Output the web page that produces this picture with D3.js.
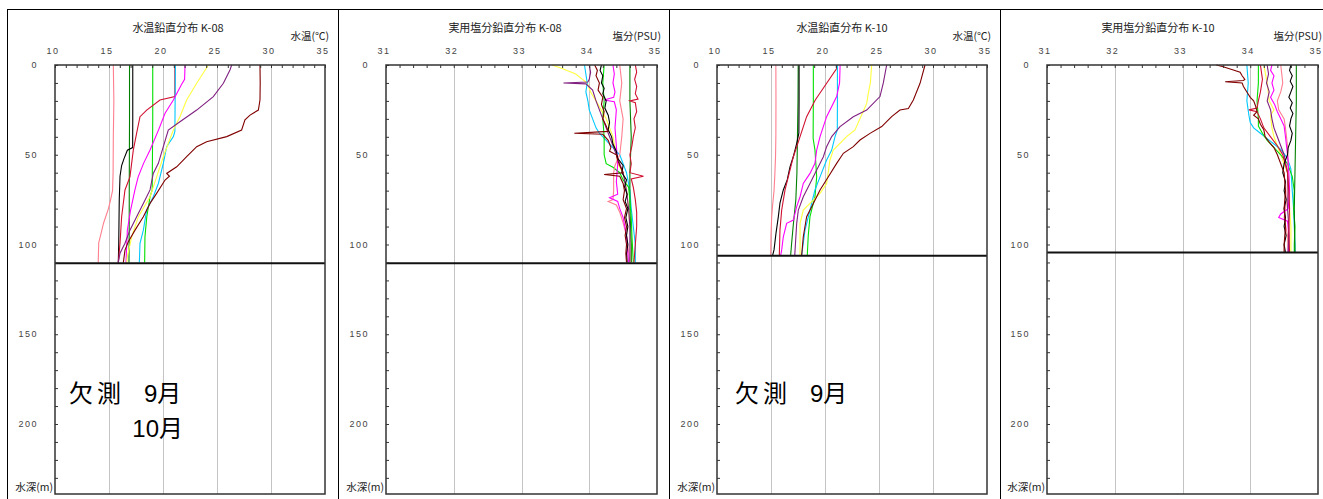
<!DOCTYPE html>
<html lang="ja">
<head>
<meta charset="UTF-8" />
<title>水温・実用塩分 鉛直分布 K-08 / K-10</title>
<style>
  body { margin: 0; background: #fff; }
  svg { display: block; }
  .tick-label { font-family: "Liberation Sans", sans-serif; font-size: 9px; fill: #444; letter-spacing: 1.5px; }
  .title { font-family: "Noto Sans CJK JP", sans-serif; font-size: 11px; fill: #222; }
  .unit { font-family: "Noto Sans CJK JP", sans-serif; font-size: 10.5px; fill: #222; }
  .note { font-family: "Liberation Sans", "Noto Sans CJK JP", sans-serif; font-size: 24px; fill: #000; }
</style>
<script src="https://d3js.org/d3.v7.min.js"></script>
</head>
<body>
<div id="chart"></div>
<script>
// axis values
const tempTicks = [10, 15, 20, 25, 30, 35];
const salTicks = [31, 32, 33, 34, 35];
const depthTicks = [0, 50, 100, 150, 200];
const depthMax = 239;

// K-08 water temperature profiles, [depth m, temp °C]
const t08Pink = [[0,15.4],[20,15.45],[40,15.4],[60,15.38],[70,15.33],[75,15.15],[80,14.95],[88,14.5],[93,14.3],[99,14.05],[110,14.0]];
const t08DarkGreen = [[0,16.9],[30,16.9],[60,16.88],[90,16.87],[110,16.85]];
const t08Black = [[0,17.2],[30,17.2],[46,17.19],[47.5,16.7],[52,16.4],[56,16.17],[62,16.02],[75,15.95],[100,15.9],[110,15.86]];
const t08Green = [[0,19.05],[30,19.05],[69.6,19.0],[73.4,18.8],[84.5,18.5],[95.7,18.33],[110,18.3]];
const t08Red = [[0,21.1],[17.6,21.1],[19.5,19.72],[25.1,18.49],[28.8,17.87],[38,17.56],[47.4,17.25],[62.3,16.94],[69.6,16.48],[84.5,16.17],[99.3,16.02],[110,15.86]];
const t08Cyan = [[0,21.15],[37,21.1],[39.9,20.96],[45.5,20.34],[54.8,20.03],[66,19.57],[73.4,19.1],[80.8,18.49],[92,18.18],[99.3,17.87],[110,17.81]];
const t08Magenta = [[0,22.04],[8,22.0],[11,21.7],[19.5,20.96],[26.9,20.19],[36,19.6],[47.4,18.8],[54.8,18.2],[62.3,17.7],[69.6,17.4],[80.8,17.0],[92,16.7],[110,16.57]];
const t08Yellow = [[0,24.2],[10.2,23.12],[19.5,22.19],[28.8,21.57],[36.2,20.96],[43.6,20.49],[51.1,20.03],[62.3,19.41],[73.4,18.8],[84.5,17.72],[95.7,17.1],[106.8,16.7],[110,16.65]];
const t08Purple = [[0,26.36],[2.8,26.2],[10.2,25.59],[17.6,24.66],[25.1,23.12],[31.6,21.57],[36.2,20.49],[45.5,20.03],[54.8,19.57],[60.4,19.1],[69.6,18.8],[77.1,18.18],[84.5,17.56],[92,16.94],[99.3,16.48],[104.9,16.02],[110,15.86]];
const t08Maroon = [[0,28.98],[10,29.0],[19.5,28.98],[25.1,28.83],[27.9,28.06],[30.6,27.59],[36.2,27.28],[39.9,25.9],[42.7,24.04],[45.5,23.12],[51.1,22.19],[56.7,21.27],[60.4,20.34],[62,20.6],[64.1,20.19],[71.5,19.41],[77.1,18.8],[84.5,18.18],[92,17.41],[98.4,16.79],[103.1,16.48],[110,16.33]];

// K-08 practical salinity profiles, [depth m, PSU]
const s08Yellow = [[0,33.45],[2,33.6],[5,33.8],[8,33.9],[10,33.97],[15,34.02],[20,34.1],[30,34.25],[40,34.35],[50,34.4],[55,34.42],[60,34.5],[70,34.55],[80,34.58],[90,34.6],[100,34.62],[110,34.62]];
const s08Cyan = [[0,33.93],[5,33.95],[10,33.97],[15,33.95],[20,33.98],[25,34.0],[30,34.05],[35,34.1],[38,34.15],[42,34.25],[46,34.35],[50,34.45],[55,34.5],[60,34.55],[70,34.6],[80,34.62],[90,34.65],[100,34.68],[110,34.68]];
const s08Maroon = [[0,34.08],[3,34.12],[6,34.1],[10,34.15],[14,34.13],[18,34.2],[22,34.18],[26,34.22],[30,34.2],[34,34.25],[37,34.28],[38,33.78],[38.6,34.2],[42,34.28],[46,34.32],[48,34.3],[50,34.4],[53,34.42],[56,34.45],[60,34.5],[61,34.22],[62,34.45],[66,34.5],[70,34.52],[75,34.5],[80,34.55],[85,34.52],[90,34.55],[95,34.53],[100,34.55],[105,34.54],[110,34.55]];
const s08Purple = [[0,34.0],[4,34.02],[8,34.0],[9.5,33.98],[10,33.62],[10.5,33.95],[14,34.05],[20,34.1],[25,34.15],[30,34.2],[35,34.25],[40,34.3],[45,34.35],[50,34.4],[55,34.45],[60,34.5],[70,34.55],[80,34.58],[90,34.6],[100,34.6],[110,34.6]];
const s08Black = [[0,34.18],[3,34.16],[6,34.2],[10,34.18],[13,34.22],[16,34.2],[20,34.25],[24,34.23],[28,34.28],[32,34.3],[36,34.28],[40,34.33],[44,34.35],[48,34.4],[52,34.42],[56,34.5],[60,34.48],[64,34.55],[68,34.52],[72,34.56],[76,34.53],[80,34.57],[85,34.54],[90,34.57],[95,34.55],[100,34.57],[105,34.55],[110,34.56]];
const s08Green = [[0,34.22],[10,34.2],[20,34.22],[30,34.2],[40,34.22],[50,34.22],[55,34.25],[57,34.35],[60,34.45],[64,34.5],[68,34.58],[75,34.6],[85,34.62],[95,34.63],[110,34.65]];
const s08Magenta = [[0,34.35],[5,34.37],[10,34.35],[15,34.38],[18,34.36],[19.5,34.22],[20.5,34.37],[25,34.4],[35,34.38],[45,34.4],[55,34.42],[65,34.4],[72,34.42],[74,34.3],[76,34.42],[80,34.45],[85,34.5],[95,34.55],[110,34.58]];
const s08Pink = [[0,34.45],[10,34.48],[20,34.45],[30,34.5],[40,34.48],[50,34.45],[56,34.38],[60,34.36],[70,34.36],[75,34.35],[76,34.28],[78,34.4],[82,34.45],[88,34.5],[95,34.55],[110,34.6]];
const s08Red = [[0,34.68],[4,34.7],[8,34.67],[12,34.7],[16,34.68],[19,34.72],[20,34.6],[21,34.68],[26,34.7],[30,34.66],[35,34.68],[40,34.65],[45,34.63],[50,34.6],[55,34.62],[60,34.6],[62,34.8],[63.5,34.62],[68,34.65],[75,34.68],[82,34.7],[90,34.7],[100,34.68],[110,34.66]];
const s08DarkGreen = [[0,34.6],[20,34.6],[40,34.62],[60,34.6],[80,34.6],[100,34.62],[110,34.62]];

// K-10 water temperature profiles, [depth m, temp °C]
const t10Pink = [[0,15.45],[20,15.46],[40,15.45],[51,15.42],[62,15.35],[70,15.28],[78,15.15],[85,15.06],[95,15.0],[106,14.97]];
const t10Black = [[0,17.6],[20,17.6],[38,17.58],[43.6,17.38],[51,17.07],[56.7,16.76],[64,16.5],[69.6,16.14],[77,15.83],[84.5,15.68],[93.8,15.46],[103,15.28],[106,15.15]];
const t10DarkGreen = [[0,17.52],[20,17.5],[40,17.45],[60,17.4],[75,17.3],[90,17.05],[100,16.9],[106,16.82]];
const t10Red = [[0,21.1],[2,21.08],[10.2,20.15],[19.5,19.1],[28.8,18.3],[39.9,17.69],[51.1,17.07],[62.3,16.6],[69.6,16.3],[80.8,15.99],[92,15.83],[106,15.77]];
const t10Magenta = [[0,21.4],[10,21.35],[17.6,21.08],[28.8,20.15],[39.9,19.54],[47.4,19.23],[54.8,19.07],[60.4,18.61],[66,17.99],[73.4,17.69],[78.9,17.38],[86.4,17.07],[88.2,16.45],[95.7,16.14],[103,15.99],[106,15.9]];
const t10Cyan = [[0,21.15],[20,21.15],[36.2,21.14],[39.9,20.93],[47.4,20.62],[52.9,20.15],[62.3,19.54],[69.6,19.07],[80.8,18.61],[92,18.15],[106,17.84]];
const t10Yellow = [[0,24.32],[10,24.2],[15.8,24.01],[21.4,23.86],[36.2,22.78],[39.9,22.0],[47.4,20.77],[52.9,20.46],[66,20.15],[71.5,19.54],[77.1,18.61],[80.8,17.99],[88.2,17.69],[106,17.69]];
const t10Purple = [[0,25.71],[10,25.4],[17.6,25.09],[25.1,23.86],[28.8,22.62],[34.3,21.39],[39.9,20.62],[45.5,20.15],[51.1,19.85],[58.5,19.23],[66,18.61],[73.4,17.99],[80.8,17.53],[88.2,17.38],[106,17.2]];
const t10Maroon = [[0,29.26],[10.2,28.8],[19.5,28.18],[24.2,27.72],[25.1,26.94],[28.8,26.17],[34.3,25.25],[38.1,24.17],[41.8,23.24],[45.5,22.62],[49.2,21.7],[54.8,21.08],[62.3,20.31],[69.6,19.54],[77.1,18.92],[84.5,18.3],[95.7,17.99],[106,17.84]];
const t10Green = [[0,18.92],[20,18.92],[40.8,18.9],[47.4,19.07],[62.3,19.23],[73.4,19.07],[84.5,18.61],[95,18.45],[106,18.36]];

// K-10 practical salinity profiles, [depth m, PSU]
const s10Maroon = [[0,33.5],[1,33.6],[2.8,33.75],[4,33.85],[6,33.88],[8,33.92],[8.6,33.9],[9.3,33.63],[10,33.88],[12,33.9],[15,33.95],[18,34.0],[20,34.05],[23,34.08],[26,34.1],[28,34.05],[30,34.12],[33,34.15],[36,34.2],[40,34.22],[43,34.28],[46,34.35],[50,34.4],[55,34.45],[60,34.5],[70,34.52],[80,34.5],[90,34.52],[100,34.5],[104.5,34.5]];
const s10Cyan = [[0,33.95],[10,33.97],[20,33.95],[28,33.98],[32,34.0],[35,34.05],[38,34.15],[41,34.25],[44,34.35],[47,34.45],[52,34.55],[58,34.6],[70,34.62],[80,34.64],[90,34.65],[100,34.66],[104.5,34.66]];
const s10Green = [[0,34.12],[10,34.12],[20,34.1],[30,34.12],[34,34.12],[38,34.18],[42,34.25],[46,34.35],[50,34.45],[55,34.55],[62,34.62],[70,34.65],[80,34.64],[90,34.66],[100,34.65],[104.5,34.65]];
const s10Magenta = [[0,34.32],[3,34.3],[6,34.35],[10,34.32],[14,34.35],[18,34.3],[22,34.36],[26,34.4],[30,34.45],[34,34.5],[40,34.52],[50,34.55],[60,34.57],[70,34.58],[80,34.56],[83,34.45],[85,34.42],[87,34.55],[95,34.57],[104.5,34.56]];
const s10Black = [[0,34.6],[3,34.58],[6,34.62],[9,34.59],[12,34.63],[15,34.6],[18,34.57],[21,34.62],[24,34.59],[27,34.63],[30,34.6],[34,34.58],[38,34.62],[42,34.6],[46,34.56],[50,34.55],[55,34.5],[60,34.48],[65,34.52],[70,34.5],[75,34.53],[80,34.5],[85,34.52],[90,34.5],[95,34.53],[100,34.5],[104.5,34.52]];
const s10DarkGreen = [[0,34.68],[20,34.68],[40,34.67],[60,34.66],[80,34.65],[104.5,34.66]];
const s10Yellow = [[0,34.2],[10,34.25],[20,34.28],[25,34.35],[28,34.3],[35,34.32],[40,34.35],[45,34.4],[50,34.45],[55,34.5],[60,34.55],[70,34.58],[80,34.58],[90,34.6],[104.5,34.6]];
const s10Pink = [[0,34.45],[10,34.48],[15,34.45],[20,34.4],[25,34.42],[30,34.5],[35,34.52],[45,34.55],[55,34.56],[65,34.55],[75,34.54],[85,34.5],[95,34.55],[104.5,34.56]];
const s10Purple = [[0,34.25],[5,34.27],[10,34.24],[15,34.28],[20,34.25],[25,34.3],[30,34.32],[35,34.35],[40,34.4],[45,34.45],[50,34.5],[60,34.55],[70,34.56],[80,34.55],[90,34.57],[104.5,34.56]];
const s10Red = [[0,34.15],[8,34.18],[15,34.15],[20,34.12],[24,34.1],[25,33.98],[26,34.1],[30,34.15],[35,34.2],[40,34.3],[45,34.4],[50,34.48],[60,34.55],[70,34.57],[80,34.58],[90,34.57],[104.5,34.58]];

// line colours
const col = {
  pink: "#ff7f8f", darkGreen: "#008000", black: "#000000", green: "#00e000",
  red: "#d01030", cyan: "#00c8ff", magenta: "#ff00ff", yellow: "#ffff40",
  purple: "#802080", maroon: "#800000"
};

const width = 1323, height = 499;
const plotTop = 65, plotBottom = 494;

const panels = [
  { frameLeft: 7, left: 55, right: 325, domain: [10, 35], ticks: tempTicks, minorStep: 1,
    title: "水温鉛直分布 K-08", titleX: 178, unit: "水温(℃)", bottomDepth: 110.5,
    series: [[t08Pink, col.pink], [t08DarkGreen, col.darkGreen], [t08Black, col.black], [t08Green, col.green],
             [t08Red, col.red], [t08Cyan, col.cyan], [t08Magenta, col.magenta], [t08Yellow, col.yellow],
             [t08Purple, col.purple], [t08Maroon, col.maroon]],
    notes: [["欠測", 69, 402, "start"], ["9月", 144, 402, "start"], ["10月", 183, 437, "end"]] },
  { frameLeft: 338, left: 386, right: 657, domain: [31, 35], ticks: salTicks, minorStep: 0.2,
    title: "実用塩分鉛直分布 K-08", titleX: 505, unit: "塩分(PSU)", bottomDepth: 110.5,
    series: [[s08Yellow, col.yellow], [s08Cyan, col.cyan], [s08DarkGreen, col.darkGreen], [s08Green, col.green],
             [s08Pink, col.pink], [s08Magenta, col.magenta], [s08Purple, col.purple], [s08Black, col.black],
             [s08Red, col.red], [s08Maroon, col.maroon]],
    notes: [] },
  { frameLeft: 669, left: 717, right: 987, domain: [10, 35], ticks: tempTicks, minorStep: 1,
    title: "水温鉛直分布 K-10", titleX: 842, unit: "水温(℃)", bottomDepth: 106.2,
    series: [[t10Pink, col.pink], [t10DarkGreen, col.darkGreen], [t10Black, col.black], [t10Green, col.green],
             [t10Red, col.red], [t10Cyan, col.cyan], [t10Magenta, col.magenta], [t10Yellow, col.yellow],
             [t10Purple, col.purple], [t10Maroon, col.maroon]],
    notes: [["欠測", 735, 402, "start"], ["9月", 810, 402, "start"]] },
  { frameLeft: 1000, left: 1047, right: 1318, domain: [31, 35], ticks: salTicks, minorStep: 0.2,
    title: "実用塩分鉛直分布 K-10", titleX: 1158, unit: "塩分(PSU)", bottomDepth: 104.5,
    series: [[s10Yellow, col.yellow], [s10Cyan, col.cyan], [s10Green, col.green], [s10DarkGreen, col.darkGreen],
             [s10Pink, col.pink], [s10Magenta, col.magenta], [s10Purple, col.purple], [s10Red, col.red],
             [s10Black, col.black], [s10Maroon, col.maroon]],
    notes: [] }
];

const svg = d3.select("#chart").append("svg")
  .attr("width", width)
  .attr("height", height);

// outer frame
svg.append("line").attr("x1", 7).attr("x2", width).attr("y1", 9.5).attr("y2", 9.5)
  .attr("stroke", "#000");

const y = d3.scaleLinear().domain([0, depthMax]).range([plotTop, plotBottom]);

panels.forEach(p => {
  const g = svg.append("g");
  const x = d3.scaleLinear().domain(p.domain).range([p.left, p.right]);

  // panel border
  g.append("line")
    .attr("x1", p.frameLeft + 0.5).attr("x2", p.frameLeft + 0.5)
    .attr("y1", 9).attr("y2", height)
    .attr("stroke", "#000");

  // vertical grid at major ticks
  g.selectAll(".grid").data(p.ticks.slice(1, -1)).join("line")
    .attr("class", "grid")
    .attr("x1", d => Math.round(x(d)) + 0.5).attr("x2", d => Math.round(x(d)) + 0.5)
    .attr("y1", plotTop).attr("y2", plotBottom)
    .attr("stroke", "#c4c4c4");

  // profiles
  const line = d3.line().x(d => x(d[1])).y(d => y(d[0]));
  g.selectAll(".profile").data(p.series).join("path")
    .attr("class", "profile")
    .attr("d", s => line(s[0]))
    .attr("fill", "none")
    .attr("stroke", s => s[1])
    .attr("stroke-width", 1.1);

  // bottom (station depth) line
  g.append("line")
    .attr("x1", p.left).attr("x2", p.right)
    .attr("y1", y(p.bottomDepth)).attr("y2", y(p.bottomDepth))
    .attr("stroke", "#111").attr("stroke-width", 2);

  // minor ticks, top and left, pointing inward
  const minor = d3.range(p.domain[0], p.domain[1] + 1e-9, p.minorStep);
  g.append("g").attr("transform", `translate(0,${plotTop})`)
    .call(d3.axisTop(x).tickValues(minor).tickSize(-3).tickFormat(""))
    .call(a => a.select(".domain").remove())
    .call(a => a.selectAll("line").attr("stroke", "#333"));
  g.append("g").attr("transform", `translate(${p.left},0)`)
    .call(d3.axisLeft(y).tickValues(d3.range(0, depthMax, 10)).tickSize(-3).tickFormat(""))
    .call(a => a.select(".domain").remove())
    .call(a => a.selectAll("line").attr("stroke", "#333"));

  // top tick labels
  g.selectAll(".xlab").data(p.ticks).join("text")
    .attr("class", "tick-label")
    .attr("x", d => x(d) - 2).attr("y", 54)
    .attr("text-anchor", "middle")
    .text(d => d);

  // depth labels
  g.selectAll(".ylab").data(depthTicks).join("text")
    .attr("class", "tick-label")
    .attr("x", p.left - 17).attr("y", d => y(d))
    .attr("dy", "0.35em")
    .attr("text-anchor", "end")
    .text(d => d);
  g.append("text").attr("class", "unit")
    .attr("x", p.left - 2).attr("y", 491)
    .attr("text-anchor", "end")
    .text("水深(m)");

  // plot frame
  g.append("rect")
    .attr("x", p.left).attr("y", plotTop)
    .attr("width", p.right - p.left).attr("height", plotBottom - plotTop)
    .attr("fill", "none").attr("stroke", "#333").attr("stroke-width", 1.5);

  // title and unit
  g.append("text").attr("class", "title")
    .attr("x", p.titleX).attr("y", 32)
    .attr("text-anchor", "middle")
    .text(p.title);
  g.append("text").attr("class", "unit")
    .attr("x", p.right + 4).attr("y", 40)
    .attr("text-anchor", "end")
    .text(p.unit);

  // missing-month notes
  g.selectAll(".note").data(p.notes).join("text")
    .attr("class", "note")
    .attr("x", d => d[1]).attr("y", d => d[2])
    .attr("text-anchor", d => d[3])
    .attr("letter-spacing", d => d[0] === "欠測" ? 4 : 0)
    .text(d => d[0]);
});
</script>
</body>
</html>
